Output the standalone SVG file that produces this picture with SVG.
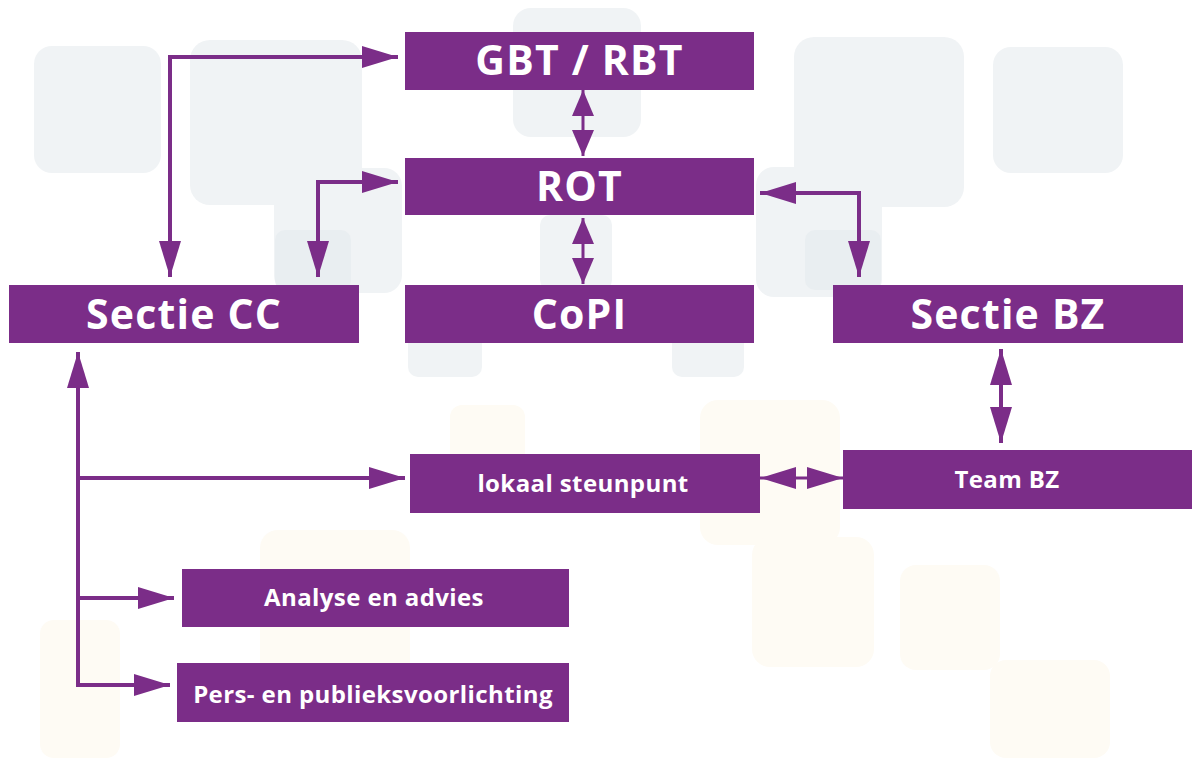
<svg xmlns="http://www.w3.org/2000/svg" width="1195" height="758" viewBox="0 0 1195 758">
  <style>
    .bg { fill: #f0f3f5; }
    .bg2 { fill: #e9eef1; }
    .cr { fill: #fefbf4; }
    .box { fill: #7b2d88; }
    .big { font-family: "Open Sans", "Liberation Sans", sans-serif; font-weight: 700; font-size: 41px; letter-spacing: 1.2px; fill: #ffffff; text-anchor: middle; }
    .small { font-family: "Open Sans", "Liberation Sans", sans-serif; font-weight: 700; font-size: 24px; letter-spacing: 0.4px; fill: #ffffff; text-anchor: middle; }
    .con { fill: none; stroke: #7b2d88; stroke-width: 4; }
  </style>
  <defs>
    <marker id="ah" viewBox="0 0 36 22" refX="36" refY="11" markerWidth="36" markerHeight="22" markerUnits="userSpaceOnUse" orient="auto-start-reverse">
      <path d="M0,0 L36,11 L0,22 z" fill="#7b2d88"/>
    </marker>
    <marker id="ahs" viewBox="0 0 26 22" refX="26" refY="11" markerWidth="26" markerHeight="22" markerUnits="userSpaceOnUse" orient="auto-start-reverse">
      <path d="M0,0 L26,11 L0,22 z" fill="#7b2d88"/>
    </marker>
  </defs>
  <rect x="0" y="0" width="1195" height="758" fill="#ffffff"/>
  <g id="background">
    <rect class="bg" x="34" y="46" width="127" height="127" rx="18"/>
    <rect class="bg" x="190" y="40" width="172" height="165" rx="20"/>
    <rect class="bg" x="274" y="168" width="128" height="125" rx="18"/>
    <rect class="bg2" x="275" y="230" width="76" height="60" rx="10"/>
    <rect class="bg" x="513" y="8" width="128" height="129" rx="18"/>
    <rect class="bg" x="540" y="215" width="72" height="75" rx="10"/>
    <rect class="bg" x="408" y="330" width="74" height="47" rx="10"/>
    <rect class="bg" x="672" y="330" width="72" height="47" rx="10"/>
    <rect class="bg" x="794" y="37" width="170" height="170" rx="20"/>
    <rect class="bg" x="993" y="47" width="130" height="126" rx="18"/>
    <rect class="bg" x="756" y="167" width="126" height="130" rx="18"/>
    <rect class="bg2" x="805" y="230" width="76" height="60" rx="10"/>
    <rect class="cr" x="450" y="405" width="75" height="70" rx="12"/>
    <rect class="cr" x="700" y="400" width="140" height="145" rx="18"/>
    <rect class="cr" x="752" y="537" width="122" height="130" rx="18"/>
    <rect class="cr" x="900" y="565" width="100" height="105" rx="16"/>
    <rect class="cr" x="990" y="660" width="120" height="98" rx="16"/>
    <rect class="cr" x="260" y="530" width="150" height="160" rx="18"/>
    <rect class="cr" x="40" y="620" width="80" height="138" rx="14"/>
  </g>
  <g id="connectors">
    <path class="con" d="M398,57 H170 V277" marker-start="url(#ah)" marker-end="url(#ah)"/>
    <path class="con" d="M398,182 H318 V277" marker-start="url(#ah)" marker-end="url(#ah)"/>
    <path class="con" d="M760,193 H859 V277" marker-start="url(#ah)" marker-end="url(#ah)"/>
    <path class="con" d="M583,90 V156" marker-start="url(#ahs)" marker-end="url(#ahs)" style="stroke-width:3"/>
    <path class="con" d="M583,218 V284" marker-start="url(#ahs)" marker-end="url(#ahs)" style="stroke-width:3"/>
    <path class="con" d="M1001,349 V443" marker-start="url(#ah)" marker-end="url(#ah)"/>
    <path class="con" d="M760,478 H843" marker-start="url(#ah)" marker-end="url(#ah)" style="stroke-width:3"/>
    <path class="con" d="M78,352 V685 H170" marker-start="url(#ah)" marker-end="url(#ah)"/>
    <path class="con" d="M78,478 H405" marker-end="url(#ah)"/>
    <path class="con" d="M78,598 H174" marker-end="url(#ah)"/>
  </g>
  <g id="gbt-rbt">
    <rect class="box" x="405" y="32" width="349" height="58"/>
    <text class="big" x="579.5" y="75">GBT / RBT</text>
  </g>
  <g id="rot">
    <rect class="box" x="405" y="158" width="349" height="57"/>
    <text class="big" x="579.5" y="201">ROT</text>
  </g>
  <g id="sectie-cc">
    <rect class="box" x="9" y="285" width="350" height="58"/>
    <text class="big" x="184" y="329">Sectie CC</text>
  </g>
  <g id="copi">
    <rect class="box" x="405" y="285" width="349" height="58"/>
    <text class="big" x="579.5" y="329">CoPI</text>
  </g>
  <g id="sectie-bz">
    <rect class="box" x="833" y="285" width="350" height="58"/>
    <text class="big" x="1008" y="329">Sectie BZ</text>
  </g>
  <g id="lokaal-steunpunt">
    <rect class="box" x="410" y="454" width="350" height="59"/>
    <text class="small" x="583" y="492">lokaal steunpunt</text>
  </g>
  <g id="team-bz">
    <rect class="box" x="843" y="450" width="349" height="59"/>
    <text class="small" x="1007" y="488">Team BZ</text>
  </g>
  <g id="analyse-en-advies">
    <rect class="box" x="182" y="569" width="387" height="58"/>
    <text class="small" x="374" y="606">Analyse en advies</text>
  </g>
  <g id="pers-en-publieksvoorlichting">
    <rect class="box" x="177" y="663" width="392" height="59"/>
    <text class="small" x="373" y="703">Pers- en publieksvoorlichting</text>
  </g>
</svg>
